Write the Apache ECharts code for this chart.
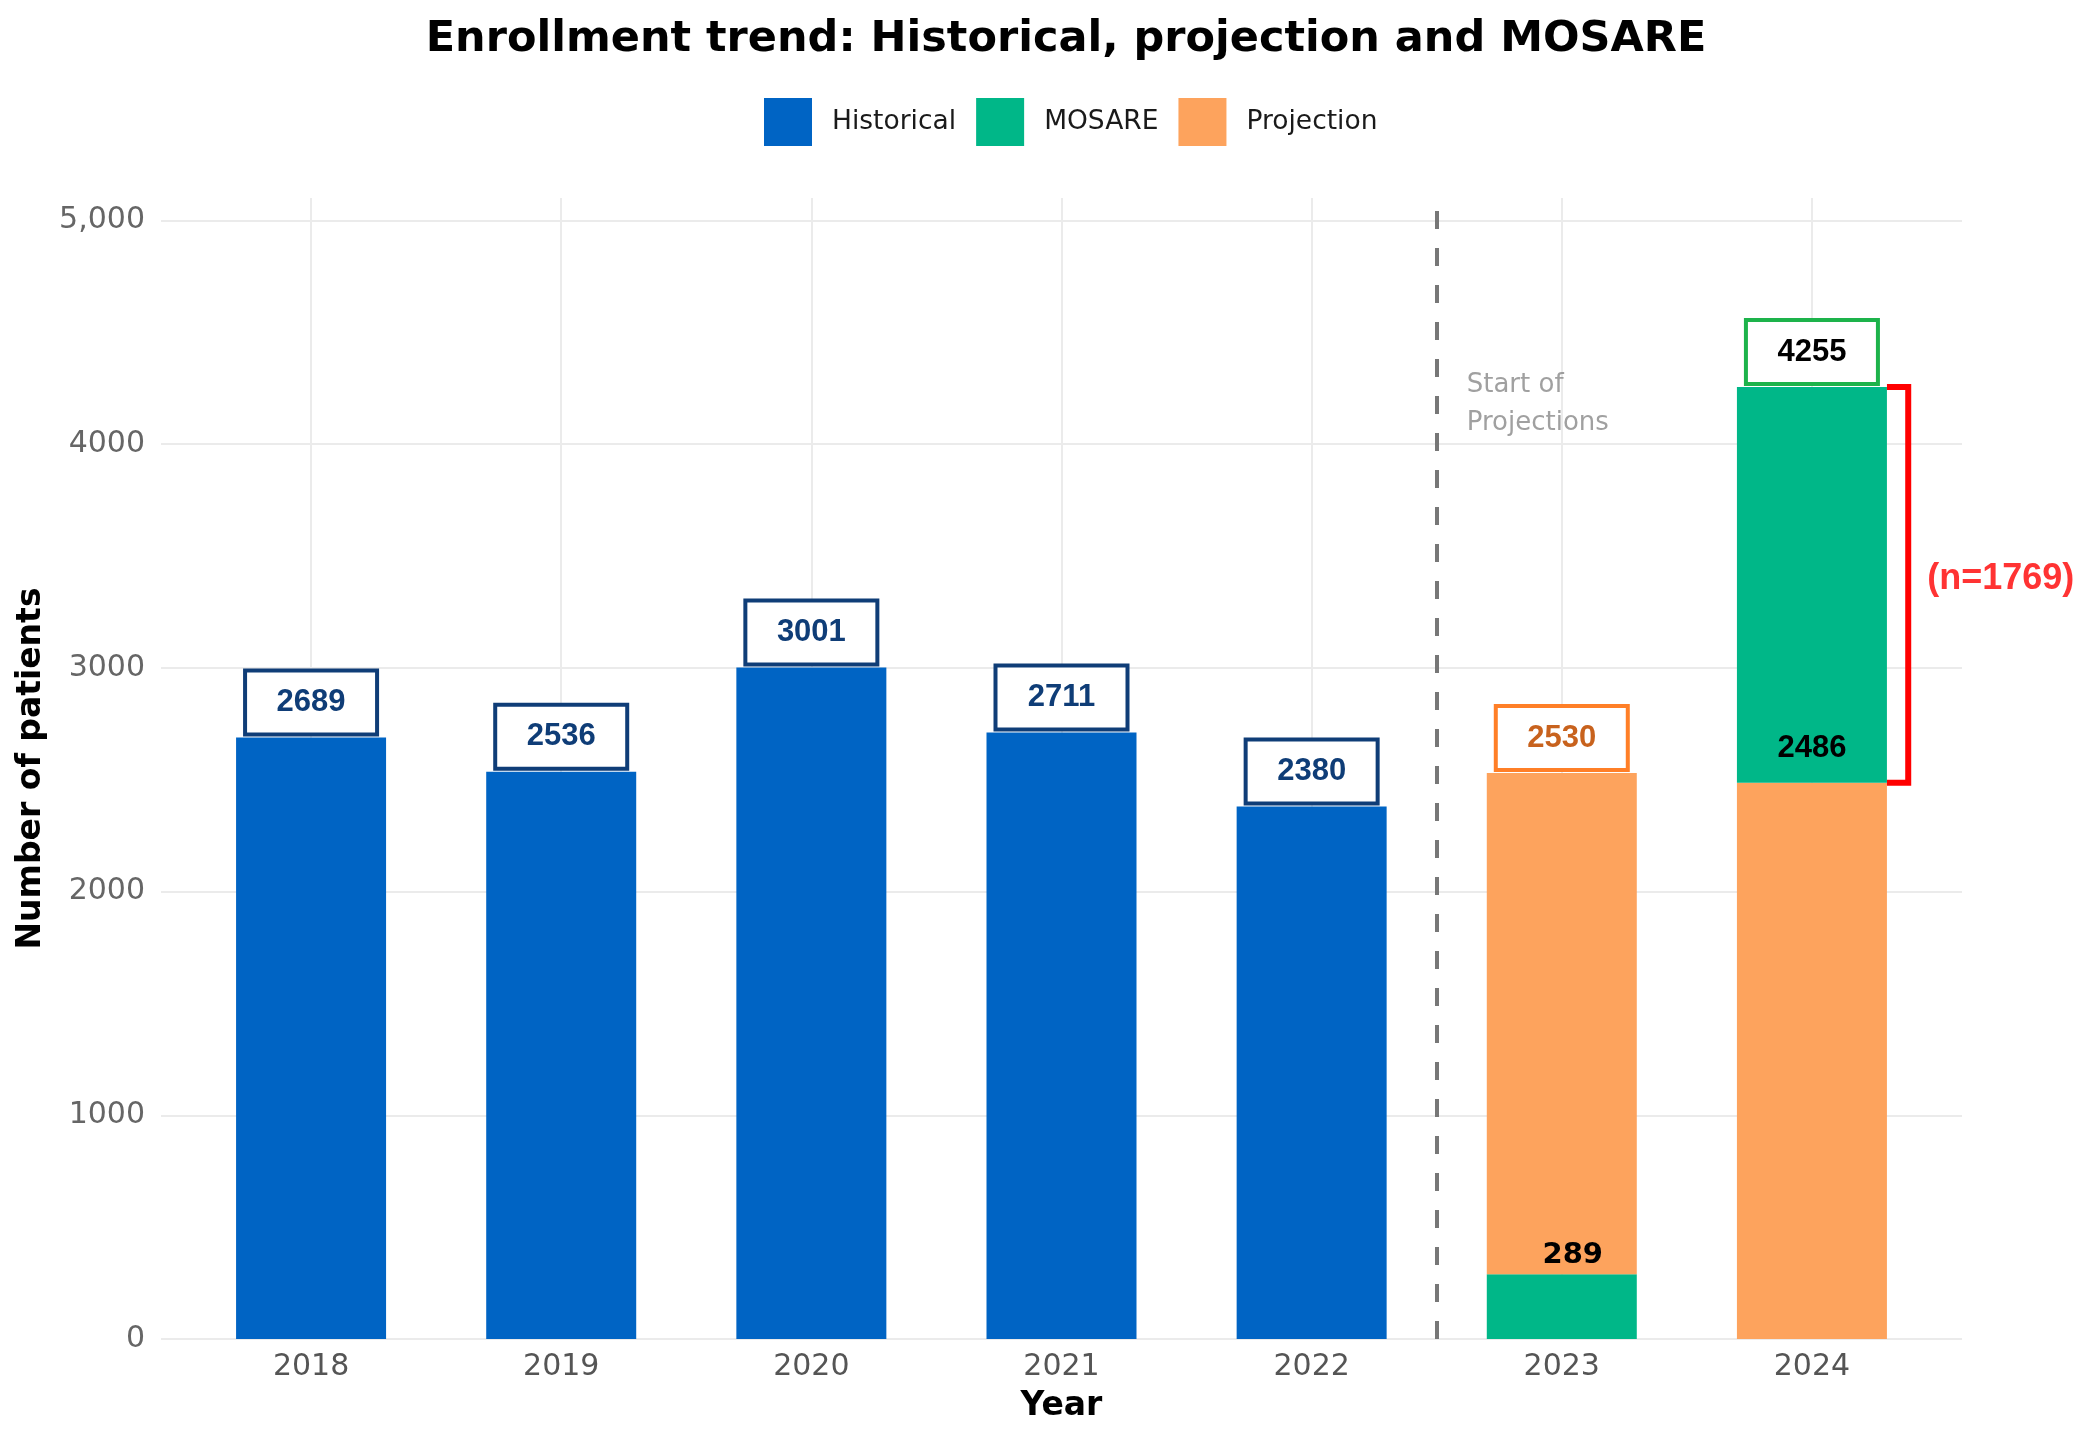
<!DOCTYPE html>
<html lang="en">
<head>
<meta charset="UTF-8">
<title>Enrollment trend</title>
<style>
  html, body { margin: 0; padding: 0; background: #fff; }
  #chart { width: 2094px; height: 1432px; }
</style>
</head>
<body>
<div id="chart"></div>
<script src="https://cdn.jsdelivr.net/npm/echarts@6/dist/echarts.js"></script>
<script>
// data
const years = ['2018', '2019', '2020', '2021', '2022', '2023', '2024'];
const historical = [2689, 2536, 3001, 2711, 2380, '-', '-'];
const projection = ['-', '-', '-', '-', '-', 2530, 2486];
const mosare = ['-', '-', '-', '-', '-', 289, 1769];
const yTickValues = [0, 1000, 2000, 3000, 4000, 5000];
const yTickLabels = ['0', '1000', '2000', '3000', '4000', '5,000'];

const BLUE = '#0064c4', GREEN = '#00b788', ORANGE = '#fda35d';
const NAVY = '#0f3d77';
const SANS = 'DejaVu Sans';
const ARIAL = 'Liberation Sans';
const Y_MAX = 5100;

const i23 = 5, i24 = 6;
// positions 1..7 on the background value axis (padding 0.6 on each side, like ggplot)
const xPos = years.map((y, i) => i + 1);

function boxLabel(border, color, text) {
  return {
    show: true,
    position: 'top',
    distance: 5,
    formatter: String(text),
    backgroundColor: '#fff',
    borderColor: border,
    borderWidth: 4,
    width: 128,
    height: 60,
    lineHeight: 60,
    align: 'center',
    fontFamily: ARIAL,
    fontWeight: 'bold',
    fontSize: 31,
    color: color
  };
}

// stacked segments
const mosareBottom = years.map((y, i) => (i === i23 ? mosare[i] : '-'));
const projSeg = years.map((y, i) => {
  if (i === i23) return { value: projection[i] - mosare[i], label: boxLabel('#ff7f27', '#c8621d', projection[i]) };
  if (i === i24) return {
    value: projection[i],
    label: {
      show: true, position: 'top', distance: 19,
      formatter: String(projection[i]),
      fontFamily: ARIAL, fontWeight: 'bold', fontSize: 31, color: '#000'
    }
  };
  return '-';
});
const mosareTop = years.map((y, i) => (i === i24
  ? { value: mosare[i], label: boxLabel('#1db34b', '#000', projection[i] + mosare[i]) }
  : '-'));

const chart = echarts.init(document.getElementById('chart'));

const option = {
  animation: false,
  backgroundColor: '#fff',
  title: {
    text: 'Enrollment trend: Historical, projection and MOSARE',
    left: 1061,
    textAlign: 'center',
    top: 13,
    textStyle: { fontFamily: SANS, fontWeight: 'bold', fontSize: 43, color: '#000' }
  },
  legend: {
    data: ['Historical', 'MOSARE', 'Projection'],
    left: 759,
    top: 93,
    icon: 'rect',
    itemWidth: 48,
    itemHeight: 48,
    itemGap: 20,
    textStyle: { fontFamily: SANS, fontSize: 26.5, color: '#1a1a1a', padding: [0, 0, 0, 15] }
  },
  grid: [
    { left: 186, right: 157, top: 198, bottom: 93 },   // bars
    { left: 161, right: 132, top: 198, bottom: 93 }    // panel with gridlines
  ],
  xAxis: [
    {
      type: 'category',
      gridIndex: 0,
      data: years,
      name: 'Year',
      nameLocation: 'middle',
      nameGap: 51,
      nameTextStyle: { fontFamily: SANS, fontWeight: 'bold', fontSize: 33, color: '#000' },
      axisLine: { show: false },
      axisTick: { show: false },
      axisLabel: { fontFamily: SANS, fontSize: 30, color: '#555', margin: 13 },
      splitLine: { show: false }
    },
    {
      type: 'value',
      gridIndex: 1,
      min: 0.4,
      max: 7.6,
      axisLine: { show: false },
      axisTick: { show: false, customValues: xPos },
      axisLabel: { show: false, customValues: xPos },
      splitLine: { show: true, lineStyle: { color: '#ebebeb', width: 2 } }
    }
  ],
  yAxis: [
    {
      type: 'value',
      gridIndex: 0,
      min: 0,
      max: Y_MAX,
      axisLine: { show: false },
      axisTick: { show: false },
      axisLabel: { show: false },
      splitLine: { show: false }
    },
    {
      type: 'value',
      gridIndex: 1,
      min: 0,
      max: Y_MAX,
      name: 'Number of patients',
      nameLocation: 'middle',
      nameGap: 112,
      nameTextStyle: { fontFamily: SANS, fontWeight: 'bold', fontSize: 33, color: '#000' },
      axisLine: { show: false },
      axisTick: { show: false, customValues: yTickValues },
      axisLabel: {
        customValues: yTickValues,
        formatter: v => yTickLabels[yTickValues.indexOf(v)],
        fontFamily: SANS, fontSize: 30, color: '#666', margin: 16
      },
      splitLine: { show: true, lineStyle: { color: '#ebebeb', width: 2 } }
    }
  ],
  series: [
    {
      name: 'Historical',
      type: 'bar',
      stack: 'all',
      barWidth: 150,
      itemStyle: { color: BLUE },
      data: historical.map(v => (v === '-' ? '-' : { value: v, label: boxLabel(NAVY, NAVY, v) }))
    },
    {
      // MOSARE under the projection in 2023
      name: 'MOSARE',
      type: 'bar',
      stack: 'all',
      barWidth: 150,
      itemStyle: { color: GREEN },
      label: {
        show: true, position: 'top', distance: 4, offset: [11, 0],
        fontFamily: SANS, fontWeight: 'bold', fontSize: 29, color: '#000'
      },
      data: mosareBottom
    },
    {
      name: 'Projection',
      type: 'bar',
      stack: 'all',
      barWidth: 150,
      itemStyle: { color: ORANGE },
      data: projSeg
    },
    {
      // MOSARE on top of the projection in 2024
      name: 'MOSARE',
      type: 'bar',
      stack: 'all',
      barWidth: 150,
      itemStyle: { color: GREEN },
      data: mosareTop
    },
    {
      // red bracket for the MOSARE gain, plus the start-of-projections line
      name: 'bracket',
      type: 'line',
      xAxisIndex: 1,
      yAxisIndex: 1,
      silent: true,
      symbol: 'none',
      lineStyle: { color: '#ff0000', width: 6, join: 'miter' },
      data: [
        [xPos[i24] + 0.3, projection[i24] + mosare[i24]],
        [xPos[i24] + 0.385, projection[i24] + mosare[i24]],
        [xPos[i24] + 0.385, projection[i24]],
        [xPos[i24] + 0.3, projection[i24]]
      ],
      markLine: {
        silent: true,
        symbol: 'none',
        label: { show: false },
        lineStyle: { color: '#777', type: [18, 19], width: 4 },
        data: [{ xAxis: 5.5 }]
      }
    },
    {
      name: 'notes',
      type: 'scatter',
      xAxisIndex: 1,
      yAxisIndex: 1,
      silent: true,
      symbolSize: 0,
      data: [
        {
          value: [xPos[i24] + 0.385, projection[i24] + mosare[i24] / 2],
          label: {
            show: true, position: 'right', distance: 19, offset: [0, -6],
            formatter: '(n=' + mosare[i24] + ')',
            fontFamily: ARIAL, fontWeight: 'bold', fontSize: 36, color: '#ff0000'
          }
        },
        {
          value: [5.5, 4180],
          label: {
            show: true, position: 'right', distance: 30,
            formatter: 'Start of\nProjections',
            lineHeight: 38,
            fontFamily: SANS, fontSize: 26, color: '#888'
          }
        }
      ]
    }
  ]
};

chart.setOption(option);
</script>
</body>
</html>
